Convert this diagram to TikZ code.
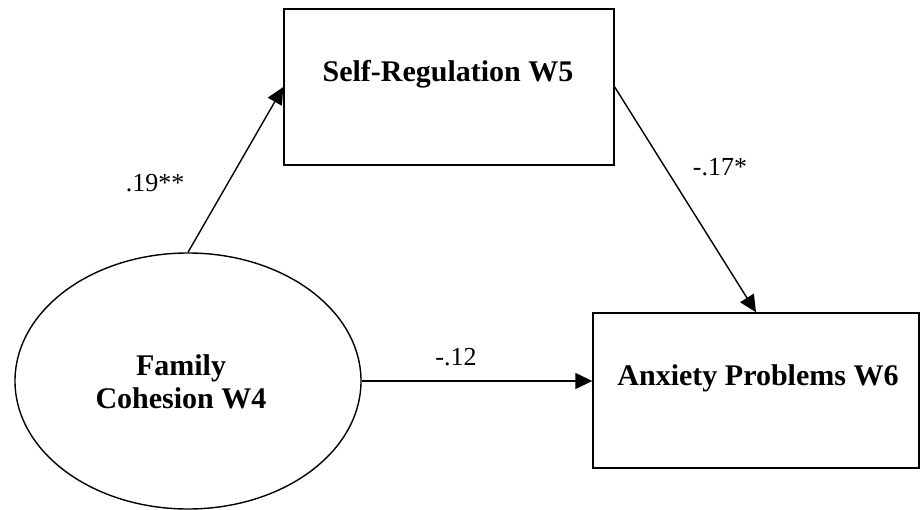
\documentclass[tikz,border=0pt]{standalone}
\usepackage{fontspec}
\setmainfont{Liberation Serif}
\usetikzlibrary{shapes.geometric,arrows.meta}
\begin{document}
\begin{tikzpicture}[x=1pt,y=-1pt,
  boxnode/.style={draw,line width=1.4pt,rectangle,inner sep=0pt},
  ovalnode/.style={draw,line width=1.4pt,ellipse,inner sep=0pt,minimum width=346pt,minimum height=256pt},
  bigtext/.style={font=\fontsize{30}{33}\selectfont\bfseries,align=center,inner sep=0pt},
  coef/.style={font=\fontsize{26}{28}\selectfont,inner sep=0pt},
  path/.style={line width=1.4pt,-{Triangle[length=17pt,width=16pt]}}]
\useasboundingbox (0,0) rectangle (920,510);
\node[boxnode,minimum width=330pt,minimum height=156pt] (sr) at (449,87) {};
\node[boxnode,minimum width=326pt,minimum height=155pt] (ax) at (756,390.5) {};
\node[ovalnode] (fc) at (188,381) {};
\node[bigtext] (srt) at (448,74) {Self-Regulation W5};
\node[bigtext] (axt) at (758,378) {Anxiety Problems W6};
\node[bigtext] (fct) at (181,382) {Family\\Cohesion W4};
\draw[path] (fc.north) -- (sr.west);
\draw[path] (sr.east) -- (ax.north);
\draw[path] (fc.east) -- (fc.east -| ax.west);
\node[coef] (c1) at (155,183) {.19**};
\node[coef] (c2) at (720,167) {-.17*};
\node[coef] (c3) at (456,357) {-.12};
\end{tikzpicture}
\end{document}
